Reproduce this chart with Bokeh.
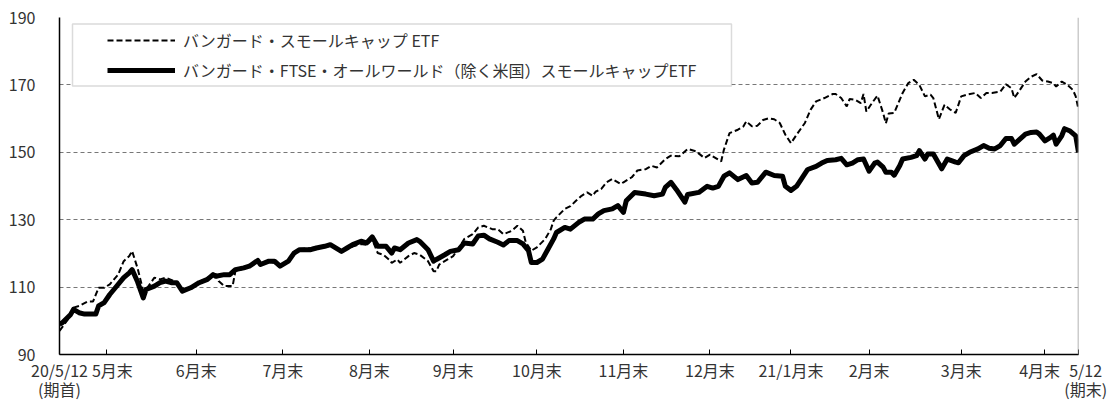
from bokeh.plotting import figure
from bokeh.models import Range1d, FixedTicker, Span, BoxAnnotation, Legend, LegendItem
from bokeh.embed import file_html
from bokeh.resources import INLINE

FONT = "Noto Sans CJK JP"
TXT = "#333333"
NB = "\u00a0"

series_names = ["バンガード・スモールキャップ ETF",
                "バンガード・FTSE・オールワールド（除く米国）スモールキャップETF"]

# x axis: days since 2020-05-12 (期首)
tick_days = [0, 17, 49, 80, 111, 141, 171, 202, 233, 262, 290, 323, 353, 365]
tick_labels = ["20/5/12", "5月末", "6月末", "7月末", "8月末", "9月末", "10月末",
               "11月末", "12月末", "21/1月末", "2月末", "3月末", "4月末", "5/12"]
start_note = "(期首)"
end_note = "(期末)"
y_ticks = [90, 110, 130, 150, 170, 190]

# バンガード・スモールキャップ ETF (dashed)
sc_days = [0, 3, 5, 7, 10, 12, 14, 16, 18, 21, 23, 25, 26, 28, 30, 31, 34, 36, 38, 41,
           43, 45, 48, 50, 53, 56, 57, 59, 62, 63, 66, 68, 71, 72, 75, 77, 79, 82, 84, 86,
           90, 92, 95, 97, 101, 103, 105, 108, 110, 112, 114, 116, 118, 119, 121, 122, 125, 127, 129, 132,
           134, 135, 136, 139, 141, 143, 145, 148, 150, 152, 155, 157, 159, 162, 164, 166, 167, 169, 171, 174,
           176, 177, 178, 181, 183, 185, 187, 189, 191, 192, 194, 196, 198, 201, 202, 205, 207, 210, 212, 214,
           217, 219, 222, 225, 228, 231, 233, 237, 238, 240, 243, 245, 246, 248, 250, 252, 254, 256, 258, 260,
           262, 264, 267, 269, 271, 274, 277, 278, 280, 282, 283, 285, 287, 288, 289, 291, 293, 295, 296, 297,
           299, 302, 304, 306, 308, 310, 312, 313, 315, 317, 319, 321, 323, 325, 328, 330, 332, 334, 337, 339,
           341, 342, 344, 346, 348, 350, 352, 354, 356, 357, 359, 361, 363, 364, 365]
sc_vals = [97.0, 100.4, 103.9, 104.4, 105.7, 105.7, 109.8, 109.8, 110.8, 113.7, 117.7, 119.2, 120.7, 115.5, 108.8, 109.3, 112.8, 112.3, 112.8, 111.8,
           110.3, 109.3, 110.5, 111.5, 112.8, 113.9, 111.8, 110.3, 110.3, 114.7, 115.5, 116.0, 117.5, 116.5, 117.5, 117.2, 116.0, 117.5, 119.8, 121.3,
           121.6, 121.9, 121.8, 122.3, 121.0, 121.3, 122.0, 122.8, 122.5, 124.1, 120.1, 119.6, 118.2, 117.2, 118.2, 117.2, 119.2, 120.1, 119.6, 117.7,
           114.7, 114.7, 116.7, 118.2, 119.2, 121.5, 124.3, 125.7, 127.7, 128.2, 127.2, 127.2, 125.7, 126.7, 128.2, 126.7, 123.3, 120.8, 121.8, 124.3,
           127.2, 129.7, 130.7, 133.2, 134.0, 135.6, 137.1, 138.1, 137.1, 138.3, 139.1, 141.1, 142.1, 140.6, 141.1, 142.6, 144.6, 145.0, 146.0, 145.5,
           148.0, 149.0, 148.8, 151.0, 150.3, 148.3, 149.3, 147.3, 150.8, 155.7, 156.7, 157.7, 159.2, 157.7, 157.9, 159.6, 160.1, 159.8, 158.7, 155.2,
           152.7, 155.2, 158.7, 162.6, 165.1, 166.1, 167.3, 167.3, 166.1, 163.6, 165.8, 165.6, 164.6, 167.3, 162.1, 164.6, 166.8, 161.7, 158.6, 161.5,
           161.7, 167.6, 170.5, 171.5, 170.0, 166.6, 167.1, 166.1, 159.8, 164.1, 162.7, 161.7, 166.6, 167.1, 167.6, 166.1, 167.6, 167.6, 168.0, 170.2,
           169.0, 166.1, 168.5, 171.0, 172.4, 173.2, 171.3, 171.0, 170.5, 169.5, 171.0, 170.0, 168.5, 166.6, 162.7]

# バンガード・FTSE・オールワールド（除く米国）スモールキャップETF (solid)
ex_days = [0, 1, 4, 5, 7, 9, 13, 14, 16, 18, 20, 23, 25, 26, 28, 30, 31, 34, 36, 38,
           40, 42, 44, 47, 50, 53, 55, 56, 59, 61, 63, 66, 68, 71, 72, 75, 77, 79, 82, 84,
           86, 90, 92, 95, 97, 101, 103, 105, 108, 110, 112, 114, 117, 119, 120, 122, 125, 128, 129, 132,
           134, 135, 138, 140, 143, 145, 148, 150, 152, 154, 157, 159, 161, 164, 166, 168, 169, 171, 173, 175,
           177, 178, 181, 183, 186, 188, 191, 193, 195, 198, 200, 202, 203, 206, 210, 213, 216, 217, 219, 221,
           224, 225, 229, 232, 234, 236, 238, 240, 243, 246, 248, 250, 253, 256, 259, 260, 262, 264, 266, 268,
           271, 273, 275, 278, 280, 282, 284, 286, 288, 290, 292, 293, 295, 296, 298, 299, 301, 302, 305, 307,
           308, 310, 311, 313, 316, 318, 321, 322, 324, 326, 329, 331, 333, 335, 337, 339, 341, 342, 344, 346,
           348, 350, 351, 353, 355, 356, 357, 359, 360, 362, 364, 365]
ex_vals = [99.0, 99.4, 101.9, 103.4, 102.4, 102.0, 102.0, 104.4, 105.4, 107.8, 109.8, 112.8, 114.2, 115.2, 111.5, 106.8, 109.3, 110.3, 111.3, 111.8,
           111.3, 111.3, 108.8, 109.8, 111.3, 112.3, 113.7, 113.2, 113.7, 113.7, 115.2, 115.7, 116.2, 117.9, 116.7, 117.7, 117.7, 116.2, 117.7, 120.1,
           121.1, 121.1, 121.6, 122.1, 122.6, 120.6, 121.6, 122.6, 123.6, 123.1, 124.9, 122.1, 122.1, 120.1, 121.6, 121.1, 123.1, 124.1, 123.6, 121.1,
           117.7, 118.2, 119.6, 120.6, 121.1, 123.1, 122.8, 125.2, 125.4, 124.3, 123.3, 122.5, 123.8, 123.8, 122.8, 120.8, 117.3, 117.3, 118.3, 121.3,
           124.3, 126.2, 127.7, 127.2, 129.2, 130.2, 130.2, 131.7, 132.7, 133.2, 134.2, 132.2, 135.6, 138.1, 137.6, 137.1, 137.6, 139.6, 141.1, 138.9,
           135.2, 137.5, 138.1, 139.9, 139.4, 139.9, 142.9, 143.9, 141.9, 143.1, 140.9, 141.1, 144.1, 143.1, 142.9, 139.9, 138.7, 139.9, 142.4, 144.9,
           145.8, 146.8, 147.6, 147.8, 148.2, 146.3, 146.8, 147.8, 148.0, 144.4, 146.8, 147.1, 145.6, 144.1, 144.1, 143.2, 146.1, 148.0, 148.5, 149.0,
           150.5, 148.0, 149.5, 149.5, 145.1, 148.0, 147.1, 146.9, 149.0, 150.0, 151.0, 152.0, 151.2, 151.0, 152.0, 154.1, 154.1, 152.4, 153.9, 155.4,
           155.9, 156.0, 155.4, 153.4, 154.4, 155.1, 152.4, 154.9, 157.0, 156.3, 154.9, 150.0]

# tick label texts (crowded labels nudged apart with no-break spaces)
overrides = {d: lab for d, lab in zip(tick_days, tick_labels)}
overrides[tick_days[0]] = tick_labels[0] + "\n" + start_note
overrides[tick_days[1]] = NB * 3 + tick_labels[1]
overrides[tick_days[-2]] = tick_labels[-2] + NB * 3
overrides[tick_days[-1]] = NB * 4 + tick_labels[-1] + "\n" + NB * 4 + end_note

p = figure(width=1109, height=404,
           x_range=Range1d(0, 365), y_range=Range1d(90, 190),
           output_backend="svg", toolbar_location=None,
           min_border_left=59, min_border_right=31, min_border_top=17, min_border_bottom=48)
p.outline_line_color = None
p.background_fill_color = "white"
p.border_fill_color = "white"

# y axis
p.yaxis.ticker = FixedTicker(ticks=y_ticks)
p.yaxis.major_tick_line_color = None
p.yaxis.minor_tick_line_color = None
p.yaxis.axis_line_color = "black"
p.yaxis.axis_line_width = 1.5
p.yaxis.major_label_standoff = 18
p.yaxis.major_label_text_font = FONT
p.yaxis.major_label_text_font_size = "16px"
p.yaxis.major_label_text_color = TXT

# x axis
p.xaxis.ticker = FixedTicker(ticks=tick_days)
p.xaxis.major_label_overrides = overrides
p.xaxis.major_tick_in = 5
p.xaxis.major_tick_out = 0
p.xaxis.major_tick_line_color = "black"
p.xaxis.minor_tick_line_color = None
p.xaxis.axis_line_color = "black"
p.xaxis.axis_line_width = 1.5
p.xaxis.major_label_standoff = 3
p.xaxis.major_label_text_font = FONT
p.xaxis.major_label_text_font_size = "16px"
p.xaxis.major_label_text_color = TXT
p.xaxis.major_label_text_line_height = 0.82

# grid
p.xgrid.visible = False
p.ygrid.grid_line_color = "#777777"
p.ygrid.grid_line_dash = "4 3"
p.ygrid.grid_line_width = 1

# right border
p.add_layout(Span(location=365, dimension="height", line_color="#999999", line_width=1.5))

r_sc = p.line(sc_days, sc_vals, line_color="black", line_width=2, line_dash="6 3")
r_ex = p.line(ex_days, ex_vals, line_color="black", line_width=5, line_join="round")

# legend frame
p.add_layout(BoxAnnotation(left=4.66, right=240.7, top=188.05, bottom=169.7,
                           fill_color="white", fill_alpha=1.0,
                           line_color="#888888", line_width=1.5))

legend = Legend(items=[LegendItem(label=series_names[0], renderers=[r_sc]),
                       LegendItem(label=series_names[1], renderers=[r_ex])],
                location=(48, 272), orientation="vertical", padding=0, spacing=6, margin=0,
                glyph_width=68, glyph_height=20, label_height=20, label_standoff=8,
                border_line_color=None, background_fill_alpha=0,
                label_text_font=FONT, label_text_font_size="16px", label_text_color=TXT)
p.add_layout(legend)

open("out.html", "w", encoding="utf-8").write(file_html(p, INLINE))
